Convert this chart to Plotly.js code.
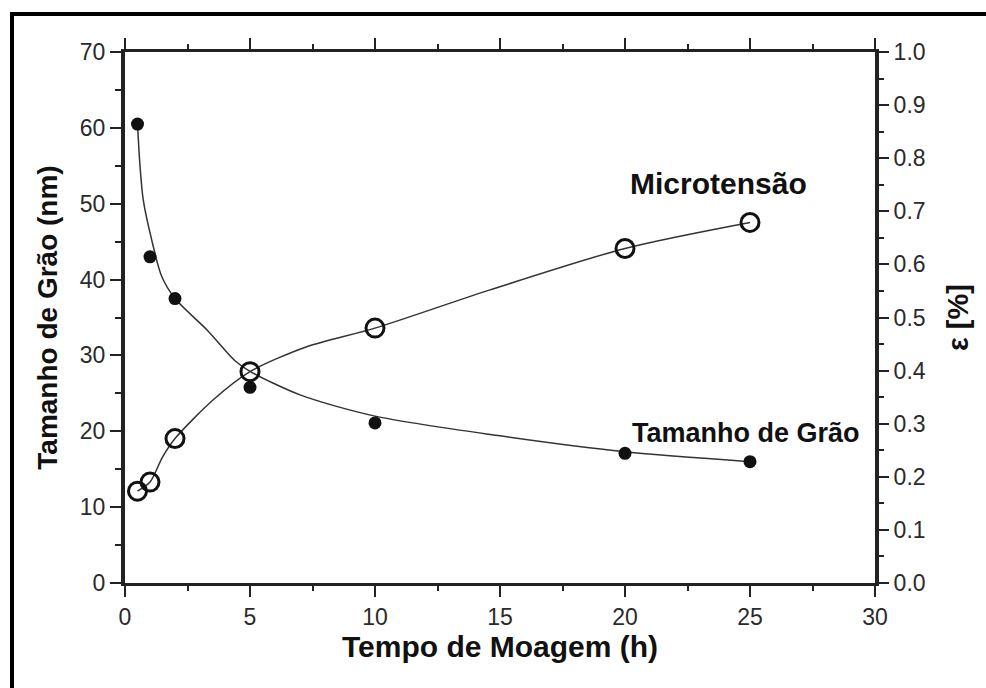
<!DOCTYPE html>
<html>
<head>
<meta charset="utf-8">
<script src="https://cdn.plot.ly/plotly-3.0.1.min.js"></script>
<style>
  html, body { margin: 0; padding: 0; background: #fff; }
  #wrap { position: relative; width: 986px; height: 688px; overflow: hidden; }
  #frame { position: absolute; left: 10px; top: 12px; width: 1000px; height: 700px;
           border-left: 4px solid #000; border-top: 4px solid #000; box-sizing: border-box;
           pointer-events: none; z-index: 5; }
  #chart { position: absolute; left: 0; top: 0; width: 986px; height: 688px; }
</style>
</head>
<body>
<div id="wrap">
  <div id="chart"></div>
  <div id="frame"></div>
</div>
<script>
// Milling time (h)
const millTime = [0.5, 1, 2, 5, 10, 20, 25];
// Crystallite size (nm), filled markers, left axis
const grainSize = [60.5, 43.0, 37.5, 25.8, 21.1, 17.1, 16.0];
// Microstrain (%), open markers, right axis
const microStrain = [0.173, 0.19, 0.272, 0.398, 0.480, 0.630, 0.679];

// Guide curves drawn through each series
const grainCurveX = [0.5, 0.6, 0.73, 1.07, 1.47, 2, 3.3, 4.4, 5, 7, 10, 15, 20, 25];
const grainCurveY = [60.5, 55.0, 50.5, 45.2, 40.4, 37.5, 33.3, 29.3, 27.9, 24.8, 22.0, 19.4, 17.3, 16.0];
const strainCurveX = [0.5, 1, 1.5, 2, 3.53, 5, 7.27, 10, 14.6, 20, 25];
const strainCurveY = [0.173, 0.19, 0.237, 0.272, 0.345, 0.398, 0.445, 0.480, 0.552, 0.630, 0.679];

// Tick labels
const xTicks = [0, 5, 10, 15, 20, 25, 30];
const yTicks = [0, 10, 20, 30, 40, 50, 60, 70];
const y2Ticks = [0, 0.1, 0.2, 0.3, 0.4, 0.5, 0.6, 0.7, 0.8, 0.9, 1.0];

const lineCol = '#333';
const tickFont = { family: 'Liberation Sans, Arial, sans-serif', size: 23, color: '#2a2a2a' };
const titleFont = { family: 'Liberation Sans, Arial, sans-serif', size: 29, color: '#111', weight: 'bold' };

const traces = [
  { x: grainCurveX, y: grainCurveY, mode: 'lines', yaxis: 'y',
    line: { color: lineCol, width: 1.5, shape: 'spline', smoothing: 0.8 }, hoverinfo: 'skip', showlegend: false },
  { x: strainCurveX, y: strainCurveY, mode: 'lines', yaxis: 'y2',
    line: { color: lineCol, width: 1.5, shape: 'spline', smoothing: 0.8 }, hoverinfo: 'skip', showlegend: false },
  { x: millTime, y: grainSize, mode: 'markers', yaxis: 'y', name: 'Tamanho de Grão',
    marker: { symbol: 'circle', size: 13, color: '#111' }, showlegend: false },
  { x: millTime, y: microStrain, mode: 'markers', yaxis: 'y2', name: 'Microtensão',
    marker: { symbol: 'circle-open', size: 18, color: '#111', line: { width: 3, color: '#111' } }, showlegend: false }
];

const layout = {
  width: 986, height: 688,
  margin: { l: 125, r: 111, t: 52, b: 105 },
  paper_bgcolor: '#fff', plot_bgcolor: '#fff',
  showlegend: false,
  xaxis: {
    range: [0, 30], tickvals: xTicks, ticktext: xTicks.map(String),
    showgrid: false, zeroline: false,
    showline: true, linecolor: '#222', linewidth: 3, mirror: 'ticks',
    ticks: 'outside', ticklen: 11, tickwidth: 2, tickcolor: '#222',
    minor: { dtick: 2.5, tick0: 0, ticks: 'outside', ticklen: 5, tickwidth: 2, tickcolor: '#222', showgrid: false },
    tickfont: tickFont,
    title: { text: 'Tempo de Moagem (h)', font: Object.assign({}, titleFont, { size: 30 }), standoff: 6 }
  },
  yaxis: {
    range: [0, 70], tickvals: yTicks, ticktext: yTicks.map(String),
    showgrid: false, zeroline: false,
    showline: true, linecolor: '#222', linewidth: 4,
    ticks: 'outside', ticklen: 11, tickwidth: 2, tickcolor: '#222',
    minor: { dtick: 5, tick0: 0, ticks: 'outside', ticklen: 6, tickwidth: 2, tickcolor: '#222', showgrid: false },
    tickfont: tickFont,
    title: { text: 'Tamanho de Grão (nm)', font: Object.assign({}, titleFont, { size: 28 }), standoff: 15 }
  },
  yaxis2: {
    range: [0, 1.0], overlaying: 'y', side: 'right',
    tickvals: y2Ticks, ticktext: y2Ticks.map(v => v.toFixed(1)),
    showgrid: false, zeroline: false,
    showline: true, linecolor: '#222', linewidth: 4,
    ticks: 'outside', ticklen: 10, tickwidth: 2, tickcolor: '#222',
    minor: { dtick: 0.05, tick0: 0, ticks: 'outside', ticklen: 5, tickwidth: 2, tickcolor: '#222', showgrid: false },
    tickfont: tickFont,
    title: { text: 'ε [%]', font: titleFont, standoff: 24 }
  },
  annotations: [
    { x: 20.1, y: 0.753, xref: 'x', yref: 'y2', xanchor: 'left', yanchor: 'middle',
      text: 'Microtensão', showarrow: false,
      font: { family: 'Liberation Sans, Arial, sans-serif', size: 30, color: '#111', weight: 'bold' } },
    { x: 20.2, y: 19.8, xref: 'x', yref: 'y', xanchor: 'left', yanchor: 'middle',
      text: 'Tamanho de Grão', showarrow: false,
      font: { family: 'Liberation Sans, Arial, sans-serif', size: 27, color: '#111', weight: 'bold' } }
  ]
};

Plotly.newPlot('chart', traces, layout, { displayModeBar: false, staticPlot: true });
</script>
</body>
</html>
